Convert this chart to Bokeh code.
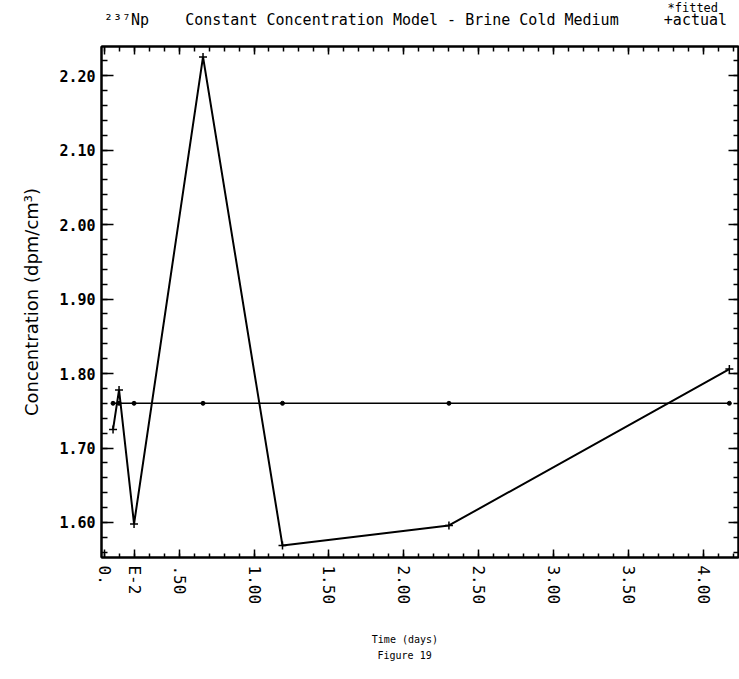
from bokeh.plotting import figure
from bokeh.models import LinearAxis, FixedTicker, Title, Range1d, ColumnDataSource
from bokeh.embed import file_html
from bokeh.resources import INLINE

# ---- data ----
time_days = [0.06, 0.10, 0.20, 0.66, 1.19, 2.30, 4.17]
actual = [1.725, 1.778, 1.598, 2.225, 1.569, 1.596, 1.806]
fitted = [1.76, 1.76, 1.76, 1.76, 1.76, 1.76, 1.76]

x_ticks = [0.0, 0.2, 0.5, 1.0, 1.5, 2.0, 2.5, 3.0, 3.5, 4.0]
x_labels = ["0.", "E-2", ".50", "1.00", "1.50", "2.00", "2.50", "3.00", "3.50", "4.00"]
y_ticks = [1.6, 1.7, 1.8, 1.9, 2.0, 2.1, 2.2]
y_labels = ["1.60", "1.70", "1.80", "1.90", "2.00", "2.10", "2.20"]

X0, X1 = -0.017, 4.231
Y0, Y1 = 1.553, 2.239

x_minor = [round(0.1 * i, 2) for i in range(0, 43)]
y_minor = [round(1.56 + 0.02 * i, 2) for i in range(0, 35)]

FL, FT, FB = 101, 46, 557
NB = "\u00a0"
MONO = "DejaVu Sans Mono"

p = figure(width=739, height=679, x_range=Range1d(X0, X1), y_range=Range1d(Y0, Y1),
           output_backend="svg", toolbar_location=None, title_location=None,
           min_border_left=FL, min_border_right=1, min_border_top=FT, min_border_bottom=679 - FB)
p.xgrid.visible = False
p.ygrid.visible = False
p.outline_line_color = "black"
p.outline_line_width = 2
p.background_fill_color = "white"
p.border_fill_color = "white"

xa = p.xaxis[0]
xa.ticker = FixedTicker(ticks=x_ticks, minor_ticks=x_minor)
xa.major_label_overrides = dict(zip(x_ticks, x_labels))
xa.major_label_orientation = "vertical"
xa.major_label_text_font = MONO
xa.major_label_text_font_size = "16px"
xa.major_label_text_color = "black"
xa.major_label_standoff = 8
xa.major_tick_in = 8
xa.major_tick_out = 0
xa.minor_tick_in = 4
xa.minor_tick_out = 0
xa.axis_line_width = 2
xa.major_tick_line_width = 1.5
xa.minor_tick_line_width = 1.5
xa.axis_label = "Time (days)" + NB * 5
xa.axis_label_text_font = MONO
xa.axis_label_text_font_style = "normal"
xa.axis_label_text_font_size = "10px"
xa.axis_label_text_color = "black"
xa.axis_label_standoff = 27

ya = p.yaxis[0]
ya.ticker = FixedTicker(ticks=y_ticks, minor_ticks=y_minor)
ya.major_label_overrides = dict(zip(y_ticks, y_labels))
ya.major_label_text_font = MONO
ya.major_label_text_font_style = "bold"
ya.major_label_text_font_size = "15px"
ya.major_label_text_color = "black"
ya.major_label_standoff = 6
ya.major_tick_in = 12
ya.major_tick_out = 0
ya.minor_tick_in = 6
ya.minor_tick_out = 0
ya.axis_line_width = 2
ya.major_tick_line_width = 1.5
ya.minor_tick_line_width = 1.5
ya.axis_label = "Concentration (dpm/cm\u00b3)"
ya.axis_label_text_font = "DejaVu Sans"
ya.axis_label_text_font_style = "normal"
ya.axis_label_text_font_size = "18px"
ya.axis_label_text_color = "black"
ya.axis_label_standoff = 14

main_title = ("\u00b2\u00b3\u2077Np" + NB * 4 + "Constant Concentration Model - Brine Cold Medium"
              + NB * 5 + "+actual" + NB)
top = LinearAxis(ticker=FixedTicker(ticks=x_ticks, minor_ticks=x_minor),
                 major_label_overrides={t: "" for t in x_ticks},
                 major_label_text_font_size="0px", major_label_standoff=0,
                 major_tick_in=8, major_tick_out=0, minor_tick_in=5, minor_tick_out=0,
                 axis_line_width=2, major_tick_line_width=1.5, minor_tick_line_width=1.5,
                 axis_label=main_title, axis_label_text_font=MONO,
                 axis_label_text_font_style="normal", axis_label_text_font_size="15px",
                 axis_label_text_color="black", axis_label_standoff=18)
p.add_layout(top, "above")

right = LinearAxis(ticker=FixedTicker(ticks=y_ticks, minor_ticks=y_minor),
                   major_label_overrides={t: "" for t in y_ticks},
                   major_label_text_font_size="0px", major_label_standoff=0,
                   major_tick_in=10, major_tick_out=0, minor_tick_in=5, minor_tick_out=0,
                   axis_line_width=2, major_tick_line_width=1.5, minor_tick_line_width=1.5)
p.add_layout(right, "right")

src = ColumnDataSource(dict(time=time_days, actual=actual, fitted=fitted))
p.line("time", "fitted", source=src, line_width=1.5, line_color="black")
p.scatter("time", "fitted", source=src, marker="circle", size=4, color="black")
p.line("time", "actual", source=src, line_width=2, line_color="black")
p.scatter("time", "actual", source=src, marker="cross", size=8, line_width=1.5, color="black")


def title(text, side, offset, standoff, size):
    p.add_layout(Title(text=text, align="left", offset=offset, standoff=standoff,
                       text_font=MONO, text_font_size=size, text_font_style="normal",
                       text_color="black"), side)


title("*fitted", "above", 566, -14, "12px")
title("Figure 19", "below", 276, -2, "10px")

open("out.html", "w").write(file_html(p, INLINE))
